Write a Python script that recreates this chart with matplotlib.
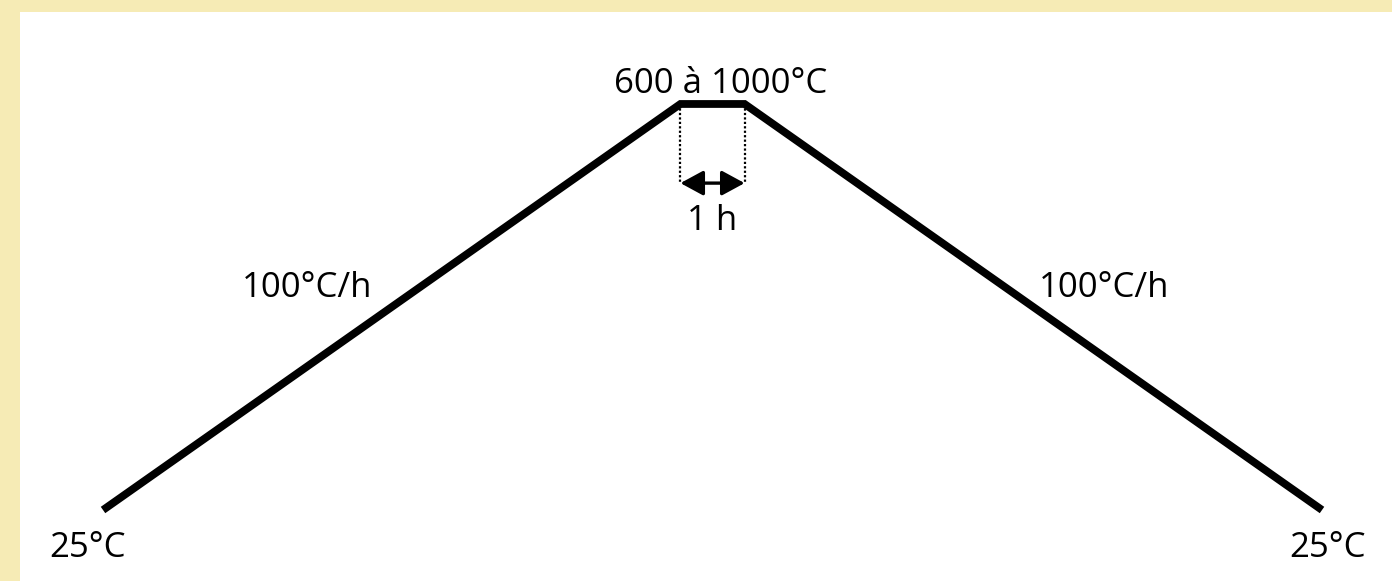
"""
Firing schedule sketch: ramp up, 1 h hold, ramp down.
"""

import matplotlib
matplotlib.use("Agg")
import matplotlib.pyplot as plt

# Schematic schedule (not to scale): time in hours, temperature in °C
time_h = [0, 9, 10, 19]
temp_c = [25, 1000, 1000, 25]

hold_start, hold_end = 9, 10
ramp_label = "100°C/h"
peak_label = "600 à 1000°C"
hold_label = "1 h"
room_label = "25°C"

BG = "#F6EBB5"
FONT = ["Open Sans", "DejaVu Sans"]
FS = 25

plt.rcParams["font.family"] = FONT

W, H = 1392, 581
fig = plt.figure(figsize=(W / 100, H / 100), dpi=100, facecolor=BG)

# white panel: beige strip 20 px on the left, 12 px on top
ax = fig.add_axes([20 / W, 0, 1 - 20 / W, (H - 12) / H])
ax.set_facecolor("white")
for s in ax.spines.values():
    s.set_visible(False)
ax.set_xticks([])
ax.set_yticks([])

# limits chosen so the curve lands where it sits in the original sketch
ax.set_xlim(-1.294, 20.091)
ax.set_ylim(-145.5, 1220.9)

ax.plot(time_h, temp_c, color="black", lw=5.6,
        solid_capstyle="butt", solid_joinstyle="miter")

# hold duration marker
arrow_y = 810
for x in (hold_start, hold_end):
    ax.plot([x, x], [temp_c[1], arrow_y], color="black", lw=1.6,
            linestyle=(0, (1, 1)))
ax.annotate("", xy=(hold_end, arrow_y), xytext=(hold_start, arrow_y),
            arrowprops=dict(arrowstyle="<|-|>,head_length=0.7,head_width=0.38",
                            mutation_scale=20, color="black", lw=2.4,
                            shrinkA=0, shrinkB=0))

mid = (hold_start + hold_end) / 2
ax.text(mid + 0.12, 1026, peak_label, ha="center", va="baseline", fontsize=FS)
ax.text(mid, 697, hold_label, ha="center", va="baseline", fontsize=FS)
ax.text(3.18, 536, ramp_label, ha="center", va="baseline", fontsize=FS)
ax.text(15.60, 536, ramp_label, ha="center", va="baseline", fontsize=FS)
ax.text(time_h[0] - 0.24, -88, room_label, ha="center", va="baseline", fontsize=FS)
ax.text(time_h[-1] + 0.09, -88, room_label, ha="center", va="baseline", fontsize=FS)

fig.savefig("out.png", dpi=100, facecolor=BG)
